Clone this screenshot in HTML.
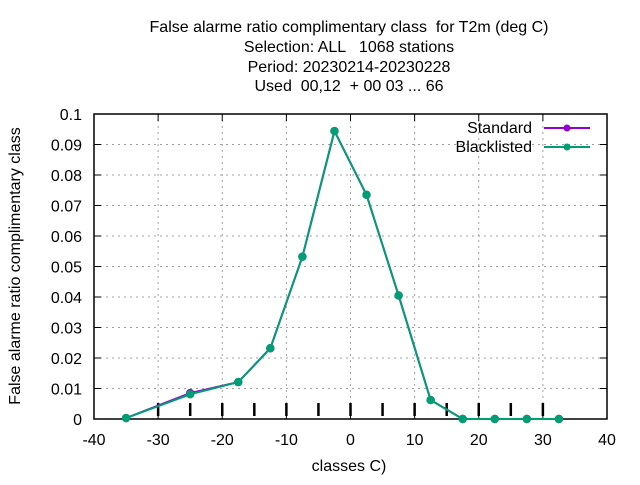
<!DOCTYPE html>
<html><head><meta charset="utf-8"><style>
body{margin:0;background:#fff;}
svg text{font-family:"Liberation Sans",sans-serif;font-size:16px;fill:#000;white-space:pre;}
</style></head><body>
<svg id="chart" width="640" height="480">
<g>
<text x="349" y="32" text-anchor="middle" xml:space="preserve">False alarme ratio complimentary class  for T2m (deg C)</text>
<text x="349" y="52" text-anchor="middle" xml:space="preserve">Selection: ALL   1068 stations</text>
<text x="349" y="72" text-anchor="middle">Period: 20230214-20230228</text>
<text x="349" y="91" text-anchor="middle" xml:space="preserve">Used  00,12  + 00 03 ... 66</text>
</g>
<text transform="translate(20,266) rotate(-90)" text-anchor="middle">False alarme ratio complimentary class</text>
<text x="349" y="471" text-anchor="middle">classes C)</text>
<g id="grid"></g><g id="axes"></g><g id="series"></g>
<g>
<text x="532" y="133" text-anchor="end">Standard</text>
<line x1="544" y1="128" x2="590" y2="128" stroke="#9400d3" stroke-width="2"/>
<circle cx="567" cy="128" r="3.5" fill="#9400d3"/>
<text x="532" y="152" text-anchor="end">Blacklisted</text>
<line x1="544" y1="147" x2="590" y2="147" stroke="#009e73" stroke-width="2"/>
<circle cx="567" cy="147" r="3.5" fill="#009e73"/>
</g>
</svg>
<script>
const xCats=[-35,-25,-17.5,-12.5,-7.5,-2.5,2.5,7.5,12.5,17.5,22.5,27.5,32.5];
const standard=[0.0003,0.0085,0.0121,0.0232,0.0532,0.0944,0.0735,0.0405,0.0062,0,0,0,0];
const blacklisted=[0.0003,0.0081,0.0121,0.0232,0.0532,0.0944,0.0735,0.0405,0.0062,0,0,0,0];
const xTicks=[-40,-30,-20,-10,0,10,20,30,40];
const yTicks=[0,0.01,0.02,0.03,0.04,0.05,0.06,0.07,0.08,0.09,0.1];
const markTicks=[-30,-25,-20,-15,-10,-5,0,5,10,15,20,25,30];
const L=94,R=607,T=114,B=419;
function X(v){return L+(v+40)/80*(R-L);}
function Y(v){return B-v/0.1*(B-T);}
const ns="http://www.w3.org/2000/svg";
function mk(tag,attrs,parent){const e=document.createElementNS(ns,tag);for(const k in attrs)e.setAttribute(k,attrs[k]);document.getElementById(parent).appendChild(e);return e;}
yTicks.forEach(v=>{
 if(v>0&&v<0.1){const g=mk('line',{x1:L,x2:R,y1:Y(v),y2:Y(v),stroke:'#a0a0a0','stroke-dasharray':'2,4'},'grid');
 
 }
 const t=mk('line',{x1:L,x2:L+7,y1:Y(v),y2:Y(v),stroke:'#000'},'axes');
 
 
 mk('line',{x1:R,x2:R-7,y1:Y(v),y2:Y(v),stroke:'#000'},'axes');
 const l=mk('text',{x:L-12,y:Y(v)+6,'text-anchor':'end'},'axes');l.textContent=String(v);
 
 
});
xTicks.forEach(v=>{
 if(v>-40&&v<40){const g=mk('line',{x1:X(v),x2:X(v),y1:T,y2:B,stroke:'#a0a0a0','stroke-dasharray':'2,4'},'grid');
 
 }
 mk('line',{x1:X(v),x2:X(v),y1:B,y2:B-7,stroke:'#000'},'axes');
 mk('line',{x1:X(v),x2:X(v),y1:T,y2:T+7,stroke:'#000'},'axes');
 const l=mk('text',{x:X(v),y:B+26,'text-anchor':'middle'},'axes');l.textContent=String(v);
 
 
});
markTicks.forEach(v=>{const m=mk('line',{x1:X(v),x2:X(v),y1:B-16,y2:B-3,stroke:'#000','stroke-width':2.5},'axes');
 
 });
const fr=mk('rect',{x:L,y:T,width:R-L,height:B-T,fill:'none',stroke:'#000','stroke-width':1.5},'axes');


function series(vals,color,name){
 const p=mk('polyline',{points:vals.map((v,i)=>X(xCats[i])+','+Y(v)).join(' '),fill:'none',stroke:color,'stroke-width':2},'series');
 
 
 vals.forEach((v,i)=>{const c=mk('circle',{cx:X(xCats[i]),cy:Y(v),r:4.2,fill:color},'series');
 
 });
}
series(standard,'#9400d3','standard');
series(blacklisted,'#009e73','blacklisted');
</script>
</body></html>
